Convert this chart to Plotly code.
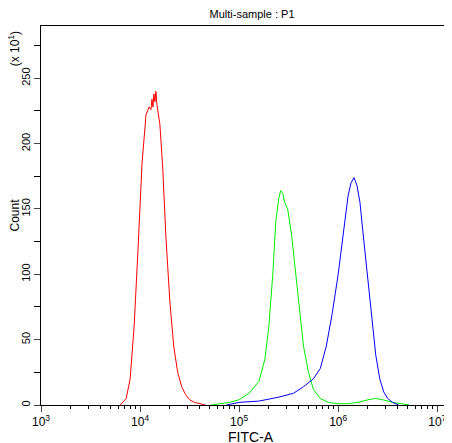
import plotly.graph_objects as go

# log10(FITC-A) positions and counts (x10) for each histogram
red_log = [3.80, 3.86, 3.90, 3.94, 3.98, 4.02, 4.06, 4.09, 4.11, 4.12, 4.13, 4.14, 4.15, 4.16, 4.17, 4.18, 4.20, 4.23, 4.26, 4.30, 4.34, 4.38, 4.42, 4.46, 4.50, 4.55, 4.60, 4.66]
red_cnt = [0, 5, 20, 60, 120, 185, 222, 228, 226, 234, 228, 238, 232, 240, 230, 225, 215, 180, 130, 80, 45, 25, 14, 8, 4, 2, 1, 0]

green_log = [4.72, 4.80, 4.90, 5.00, 5.10, 5.20, 5.26, 5.30, 5.34, 5.37, 5.40, 5.42, 5.44, 5.46, 5.49, 5.53, 5.57, 5.61, 5.65, 5.70, 5.75, 5.82, 5.90, 6.00, 6.10, 6.20, 6.30, 6.38, 6.45, 6.55, 6.65, 6.72]
green_cnt = [0, 1, 2, 4, 9, 18, 35, 60, 100, 140, 158, 164, 162, 155, 150, 130, 100, 70, 45, 25, 12, 5, 2, 1, 1, 2, 4, 5, 4, 2, 1, 0]

blue_log = [4.87, 5.00, 5.20, 5.40, 5.55, 5.65, 5.75, 5.82, 5.88, 5.94, 6.00, 6.05, 6.10, 6.13, 6.16, 6.19, 6.22, 6.26, 6.30, 6.34, 6.38, 6.42, 6.46, 6.50, 6.55, 6.61]
blue_cnt = [0, 2, 3, 6, 9, 14, 20, 28, 45, 70, 100, 130, 160, 170, 174, 168, 155, 125, 95, 65, 38, 20, 10, 5, 2, 0]

x_tickvals = [1e3, 1e4, 1e5, 1e6, 1e7]
x_ticktext = ["10<sup>3</sup>", "10<sup>4</sup>", "10<sup>5</sup>", "10<sup>6</sup>", "10<sup>7</sup>"]
x_minor = [m * 10 ** d for d in range(3, 7) for m in range(2, 10)]
y_tickvals = [0, 50, 100, 150, 200, 250]

fig = go.Figure()
for lg, cnt, col in [(red_log, red_cnt, "#ff0000"), (green_log, green_cnt, "#00ee00"), (blue_log, blue_cnt, "#0000ff")]:
    fig.add_trace(go.Scatter(x=[10 ** v for v in lg], y=cnt, mode="lines",
                             line=dict(color=col, width=1), showlegend=False))

fig.update_layout(
    width=452, height=443,
    margin=dict(l=33, r=0, t=18, b=46),
    plot_bgcolor="white", paper_bgcolor="white",
    font=dict(family="Liberation Sans, Arial", size=12, color="black"),
    title=dict(text="Multi-sample : P1", x=0.54, y=0.995, yanchor="top", font=dict(size=11)),
    xaxis=dict(type="log", range=[3, 7.23], tickvals=x_tickvals, ticktext=x_ticktext, automargin=False,
               ticks="outside", ticklen=6, showgrid=False, showline=True, linecolor="black", mirror=True,
               minor=dict(tickvals=x_minor, ticks="outside", ticklen=3, tickcolor="black", showgrid=False),
               title=dict(text="FITC-A", standoff=0), zeroline=False),
    yaxis=dict(range=[0, 290], tickvals=y_tickvals, ticks="outside", ticklen=6, tickangle=-90, automargin=False,
               showgrid=False, showline=True, linecolor="black", mirror=True, zeroline=False,
               tickfont=dict(size=11),
               minor=dict(dtick=25, ticks="outside", ticklen=6, tickcolor="black", showgrid=False)),
)
fig.add_annotation(text="Count", xref="paper", yref="paper", x=0, xshift=-27, y=0.5,
                   xanchor="center", yanchor="middle", showarrow=False, textangle=-90, font=dict(size=12))
fig.add_annotation(text="(x 10<sup>1</sup>)", xref="paper", yref="paper", x=0, xshift=-27, y=0.99,
                   xanchor="center", yanchor="top", showarrow=False, textangle=-90, font=dict(size=12))
fig.write_html("out.html")
